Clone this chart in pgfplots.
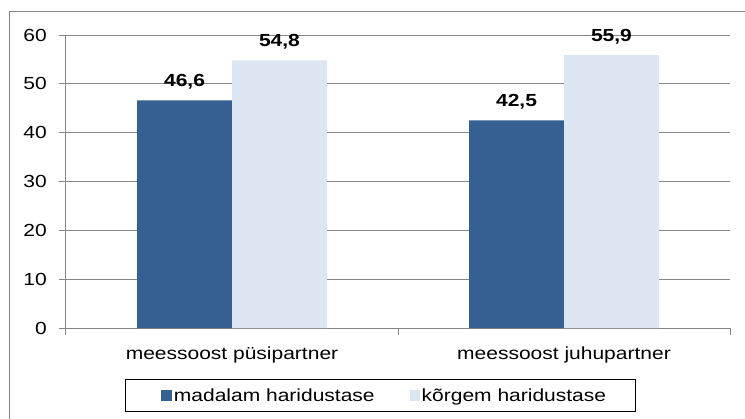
\documentclass[border=0pt]{standalone}
\usepackage{pgfplots}
\pgfplotsset{compat=1.18}
\usepackage{fontspec}
\setmainfont{Liberation Sans}[FakeStretch=1.2]
\definecolor{darkbar}{RGB}{55,96,146}
\definecolor{lightbar}{RGB}{220,230,242}
\definecolor{axgray}{RGB}{134,134,134}
\begin{document}
\begin{tikzpicture}[font=\fontsize{17.5bp}{21bp}\selectfont]
\path[use as bounding box] (-66bp,-91bp) rectangle (679bp,328bp);
\draw[axgray, line width=1bp] (-56bp,-100bp) -- (-56bp,316bp) -- (700bp,316bp);
\begin{axis}[
  at={(0,0)}, anchor=south west,
  scale only axis, width=664bp, height=293bp,
  xmin=-0.5, xmax=1.5, ymin=0, ymax=60,
  ybar=0pt, bar width=0.286,
  ytick={0,10,...,60},
  xtick={-0.5,0.5,1.5}, xticklabels={},
  extra x ticks={0,1},
  extra x tick labels={meessoost püsipartner, meessoost juhupartner},
  extra x tick style={major tick length=0pt, xticklabel style={anchor=base, yshift=-31bp, inner sep=0pt}},
  yticklabel style={anchor=east, inner sep=0pt, xshift=-12bp},
  /pgf/number format/assume math mode=true,
  axis x line*=bottom, axis y line*=left,
  tick align=outside, major tick length=7bp,
  axis line style={axgray, line width=1bp},
  tick style={axgray, line width=1bp},
  ymajorgrids, major grid style={axgray, line width=1bp},
  nodes near coords,
  nodes near coords style={font=\fontsize{17.5bp}{21bp}\selectfont\bfseries, anchor=base, yshift=14bp,
    /pgf/number format/.cd, use comma, fixed, fixed zerofill, precision=1, assume math mode=true},
  legend columns=2,
  legend style={at={(axis description cs:0.4737,-0.2304)}, anchor=center, draw=black, line width=0.8bp,
    inner xsep=28bp, inner ysep=7.5bp,
    /tikz/every even column/.append style={column sep=34bp},
    nodes={inner sep=1.5bp}},
]
\addplot[fill=darkbar, draw=none,
  legend image code/.code={\path (-8bp,0bp); \fill[darkbar] (0bp,-5.5bp) rectangle (11bp,5.5bp);}]
  coordinates {(0,46.6) (1,42.5)};
\addlegendentry{madalam haridustase}
\addplot[fill=lightbar, draw=none,
  legend image code/.code={\fill[lightbar] (0bp,-5.5bp) rectangle (10bp,5.5bp);}]
  coordinates {(0,54.8) (1,55.9)};
\addlegendentry{kõrgem haridustase}
\end{axis}
\end{tikzpicture}
\end{document}
